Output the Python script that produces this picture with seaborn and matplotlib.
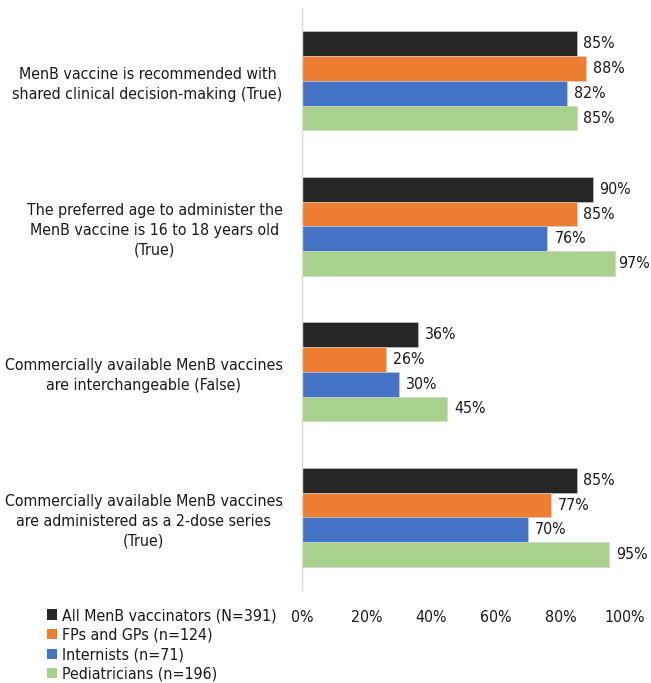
import matplotlib
matplotlib.use("Agg")
import matplotlib.pyplot as plt
import seaborn as sns
import pandas as pd
from matplotlib.patches import Patch

categories = [
    "MenB vaccine is recommended with\nshared clinical decision-making (True)",
    "The preferred age to administer the\nMenB vaccine is 16 to 18 years old\n(True)",
    "Commercially available MenB vaccines\nare interchangeable (False)",
    "Commercially available MenB vaccines\nare administered as a 2-dose series\n(True)",
]
series = [
    "All MenB vaccinators (N=391)",
    "FPs and GPs (n=124)",
    "Internists (n=71)",
    "Pediatricians (n=196)",
]
all_vacc = [85, 90, 36, 85]
fps_gps = [88, 85, 26, 77]
internists = [82, 76, 30, 70]
pediatricians = [85, 97, 45, 95]
colors = ["#262626", "#ED7D31", "#4472C4", "#A9D18E"]
xticks = [0, 20, 40, 60, 80, 100]

values = [all_vacc, fps_gps, internists, pediatricians]
rows = []
for s, vals in zip(series, values):
    for c, v in zip(categories, vals):
        rows.append({"Statement": c, "Group": s, "Value": v})
df = pd.DataFrame(rows)

sns.set_theme(style="white")
plt.rcParams["font.family"] = ["DejaVu Sans"]
plt.rcParams["font.stretch"] = "condensed"
FS = 11.4
TXT = "#1a1a1a"
PAD = 5

fig = plt.figure(figsize=(6.51, 6.83), dpi=100)
ax = fig.add_axes([0.464, 0.136, 0.496, 0.852])

sns.barplot(data=df, y="Statement", x="Value", hue="Group", order=categories,
            hue_order=series, palette=colors, saturation=1, orient="h", width=0.68,
            edgecolor="#d0d0d0", linewidth=0.4, ax=ax, legend=False)

anns = []
for cont in ax.containers:
    anns += ax.bar_label(cont, labels=[f"{int(round(b.get_width()))}%" for b in cont],
                         padding=PAD, fontsize=FS, color=TXT)

ax.set_xlim(0, 100)
ax.set_xticks(xticks)
ax.set_xticklabels([f"{t}%" for t in xticks], fontsize=FS, color=TXT)
ax.set_xlabel("")
ax.set_ylabel("")
ax.tick_params(axis="x", length=0, pad=14)
ax.tick_params(axis="y", length=0, pad=14)
for lab in ax.get_yticklabels():
    lab.set_fontsize(FS)
    lab.set_multialignment("center")
    lab.set_linespacing(1.4)
    lab.set_color(TXT)
for sp in ["top", "right", "bottom"]:
    ax.spines[sp].set_visible(False)
ax.spines["left"].set_color("#d9d9d9")
ax.spines["left"].set_linewidth(1)

handles = [Patch(facecolor=c, edgecolor="none") for c in colors]
leg = fig.legend(handles, series, loc="upper left", bbox_to_anchor=(0.063, 0.119),
                 frameon=False, fontsize=FS, handlelength=0.6, handleheight=0.6,
                 handletextpad=0.3, labelspacing=0.29, borderaxespad=0)
for t in leg.get_texts():
    t.set_color(TXT)

# keep value labels inside the figure (as the original pulls in the 97% label)
fig.canvas.draw()
renderer = fig.canvas.get_renderer()
W = fig.bbox.width
for a in anns:
    bb = a.get_window_extent(renderer)
    over = bb.x1 - (W - 1)
    if over > 0:
        a.xyann = (PAD - over * 72 / fig.dpi, a.xyann[1])

fig.savefig("out.png", dpi=100)
